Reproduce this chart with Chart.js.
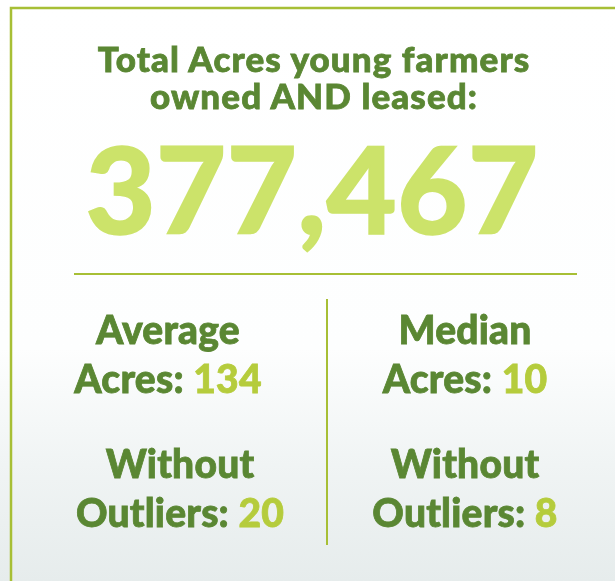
<!DOCTYPE html>
<html>
<head>
<meta charset="utf-8">
<script src="https://cdn.jsdelivr.net/npm/chart.js@4.4.1/dist/chart.umd.min.js"></script>
<style>
  html, body { margin: 0; padding: 0; width: 615px; height: 581px; overflow: hidden; background: #fff; }
  #wrap { position: relative; width: 615px; height: 581px; }
  #bg { position: absolute; left: 0; top: 0; }
  .txt { position: absolute; font-family: "Lato", "Open Sans", sans-serif; font-weight: 900; color: #5a8733; text-align: center; white-space: nowrap; -webkit-text-stroke: 0.8px currentColor; }
  .title { left: 0; width: 628px; top: 40px; font-size: 35px; line-height: 37px; letter-spacing: 1.1px; }
  .big { left: 0; width: 624px; top: 123px; font-size: 121px; line-height: 130px; color: #cce36a; letter-spacing: 0.5px; -webkit-text-stroke: 1.5px currentColor; }
  .stat { font-size: 39px; line-height: 49px; width: 300px; letter-spacing: 0.2px; }
  .stat .v { color: #b5cc3c; }
</style>
</head>
<body>
<div id="wrap">
  <canvas id="bg" width="615" height="581"></canvas>
  <div class="txt title" id="title"></div>
  <div class="txt big" id="total"></div>
  <div id="stats"></div>
</div>
<script>
(() => {
  "use strict";

  // ---- data ----
  const TITLE_LINES = ["Total Acres young farmers", "owned AND leased:"];
  const TOTAL_ACRES = 377467;
  const STAT_NAMES = ["Average", "Median"];
  const STAT_VALUES = [134, 10];
  const NO_OUTLIER_VALUES = [20, 8];

  const $ = (id) => document.getElementById(id);
  const fmt = (n) => Number(n).toLocaleString("en-US");

  $("title").innerHTML = TITLE_LINES.join("<br>");
  $("total").textContent = fmt(TOTAL_ACRES);

  // column centres / tops
  const blocks = [
    { cx: [168, 465], top: 305, first: STAT_NAMES, second: "Acres: ", vals: STAT_VALUES },
    { cx: [180, 465], top: 439, first: ["Without", "Without"], second: "Outliers: ", vals: NO_OUTLIER_VALUES },
  ];
  const stats = $("stats");
  blocks.forEach((b) => {
    b.cx.forEach((cx, i) => {
      const d = document.createElement("div");
      d.className = "txt stat";
      d.style.left = (cx - 150) + "px";
      d.style.top = b.top + "px";
      d.innerHTML = `${b.first[i]}<br>${b.second}<span class="v">${fmt(b.vals[i])}</span>`;
      stats.appendChild(d);
    });
  });

  // Frame, background wash and divider rules drawn by a Chart.js plugin
  const frame = {
    id: "frame",
    beforeDraw(chart) {
      const { ctx, width, height } = chart;
      ctx.save();
      const g = ctx.createLinearGradient(0, 0, 0, height);
      g.addColorStop(0, "#ffffff");
      g.addColorStop(0.6, "#fdfefe");
      g.addColorStop(0.8, "#f0f4f4");
      g.addColorStop(1, "#e6ecec");
      ctx.fillStyle = g;
      ctx.fillRect(0, 0, width, height);
      ctx.strokeStyle = "#a7bf35";
      ctx.lineWidth = 2.5;
      ctx.beginPath();
      ctx.moveTo(11, height + 5);
      ctx.lineTo(11, 8);
      ctx.lineTo(width + 5, 8);
      ctx.stroke();
      ctx.lineWidth = 2;
      ctx.beginPath();
      ctx.moveTo(74, 274);
      ctx.lineTo(577, 274);
      ctx.moveTo(327, 299);
      ctx.lineTo(327, 545);
      ctx.stroke();
      ctx.restore();
    },
  };

  new Chart($("bg").getContext("2d"), {
    type: "scatter",
    data: { datasets: [] },
    options: {
      responsive: false,
      animation: false,
      plugins: { legend: { display: false }, tooltip: { enabled: false } },
      scales: { x: { display: false }, y: { display: false } },
    },
    plugins: [frame],
  });
})();
</script>
</body>
</html>
